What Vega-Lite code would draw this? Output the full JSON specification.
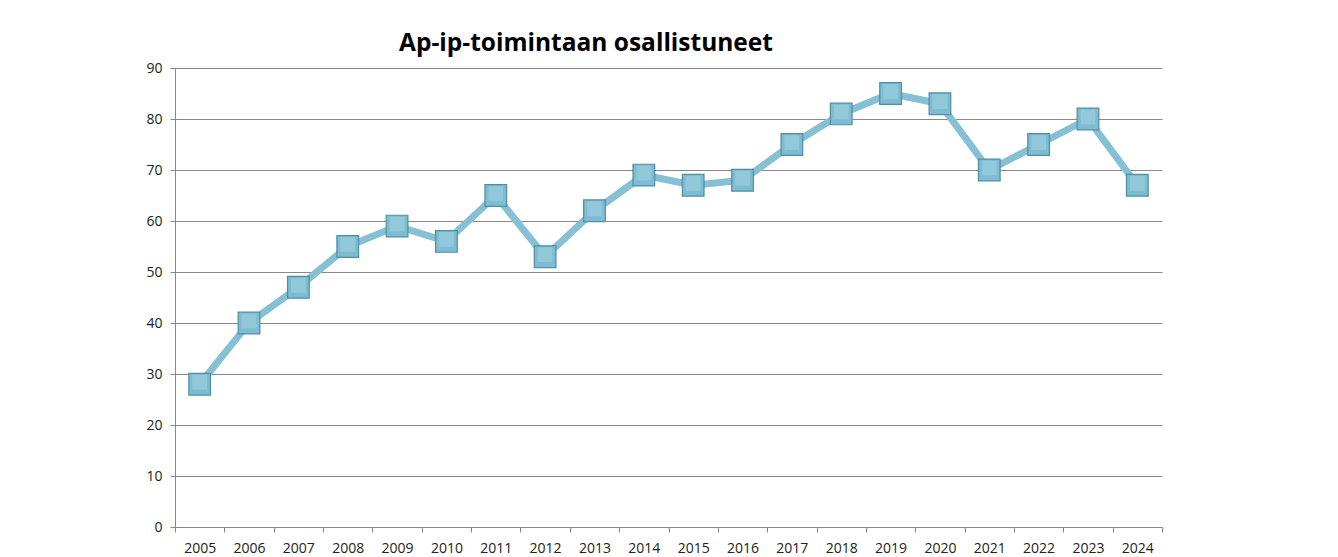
{
  "$schema": "https://vega.github.io/schema/vega-lite/v6.json",
  "autosize": {"type": "none"},
  "width": 987,
  "height": 459,
  "padding": {"left": 175, "top": 68, "right": 176, "bottom": 30},
  "background": "white",
  "title": {
    "text": "Ap-ip-toimintaan osallistuneet",
    "anchor": "start",
    "dx": 253,
    "offset": 5,
    "font": "Open Sans",
    "fontSize": 24.5,
    "fontWeight": "bold",
    "color": "#000000"
  },
  "config": {
    "view": {"stroke": null},
    "axis": {
      "labelFont": "Open Sans",
      "labelFontSize": 14,
      "labelColor": "#222222",
      "domainColor": "#888888",
      "tickColor": "#888888",
      "gridColor": "#888888",
      "gridWidth": 1,
      "titleFontSize": 0
    }
  },
  "data": {
    "values": [
      {"year": "2005", "value": 28},
      {"year": "2006", "value": 40},
      {"year": "2007", "value": 47},
      {"year": "2008", "value": 55},
      {"year": "2009", "value": 59},
      {"year": "2010", "value": 56},
      {"year": "2011", "value": 65},
      {"year": "2012", "value": 53},
      {"year": "2013", "value": 62},
      {"year": "2014", "value": 69},
      {"year": "2015", "value": 67},
      {"year": "2016", "value": 68},
      {"year": "2017", "value": 75},
      {"year": "2018", "value": 81},
      {"year": "2019", "value": 85},
      {"year": "2020", "value": 83},
      {"year": "2021", "value": 70},
      {"year": "2022", "value": 75},
      {"year": "2023", "value": 80},
      {"year": "2024", "value": 67}
    ]
  },
  "encoding": {
    "x": {
      "field": "year",
      "type": "ordinal",
      "title": null,
      "scale": {"paddingInner": 0, "paddingOuter": 0},
      "axis": {"labelAngle": 0, "tickBand": "extent", "tickSize": 5, "labelPadding": 9, "grid": false, "domainColor": "#888888"}
    },
    "y": {
      "field": "value",
      "type": "quantitative",
      "title": null,
      "scale": {"domain": [0, 90], "nice": false},
      "axis": {"values": [0, 10, 20, 30, 40, 50, 60, 70, 80, 90], "tickSize": 5, "labelPadding": 8, "grid": true}
    }
  },
  "layer": [
    {
      "mark": {"type": "line", "color": "#86c0d4", "strokeWidth": 7}
    },
    {
      "mark": {"type": "point", "shape": "square", "size": 470, "filled": true, "fill": "#7dbcd1", "stroke": "#4f8ea6", "strokeWidth": 1.2, "opacity": 1}
    },
    {
      "mark": {"type": "point", "shape": "square", "size": 220, "filled": true, "fill": "#a6d6e6", "opacity": 0.5, "yOffset": -2}
    }
  ]
}
